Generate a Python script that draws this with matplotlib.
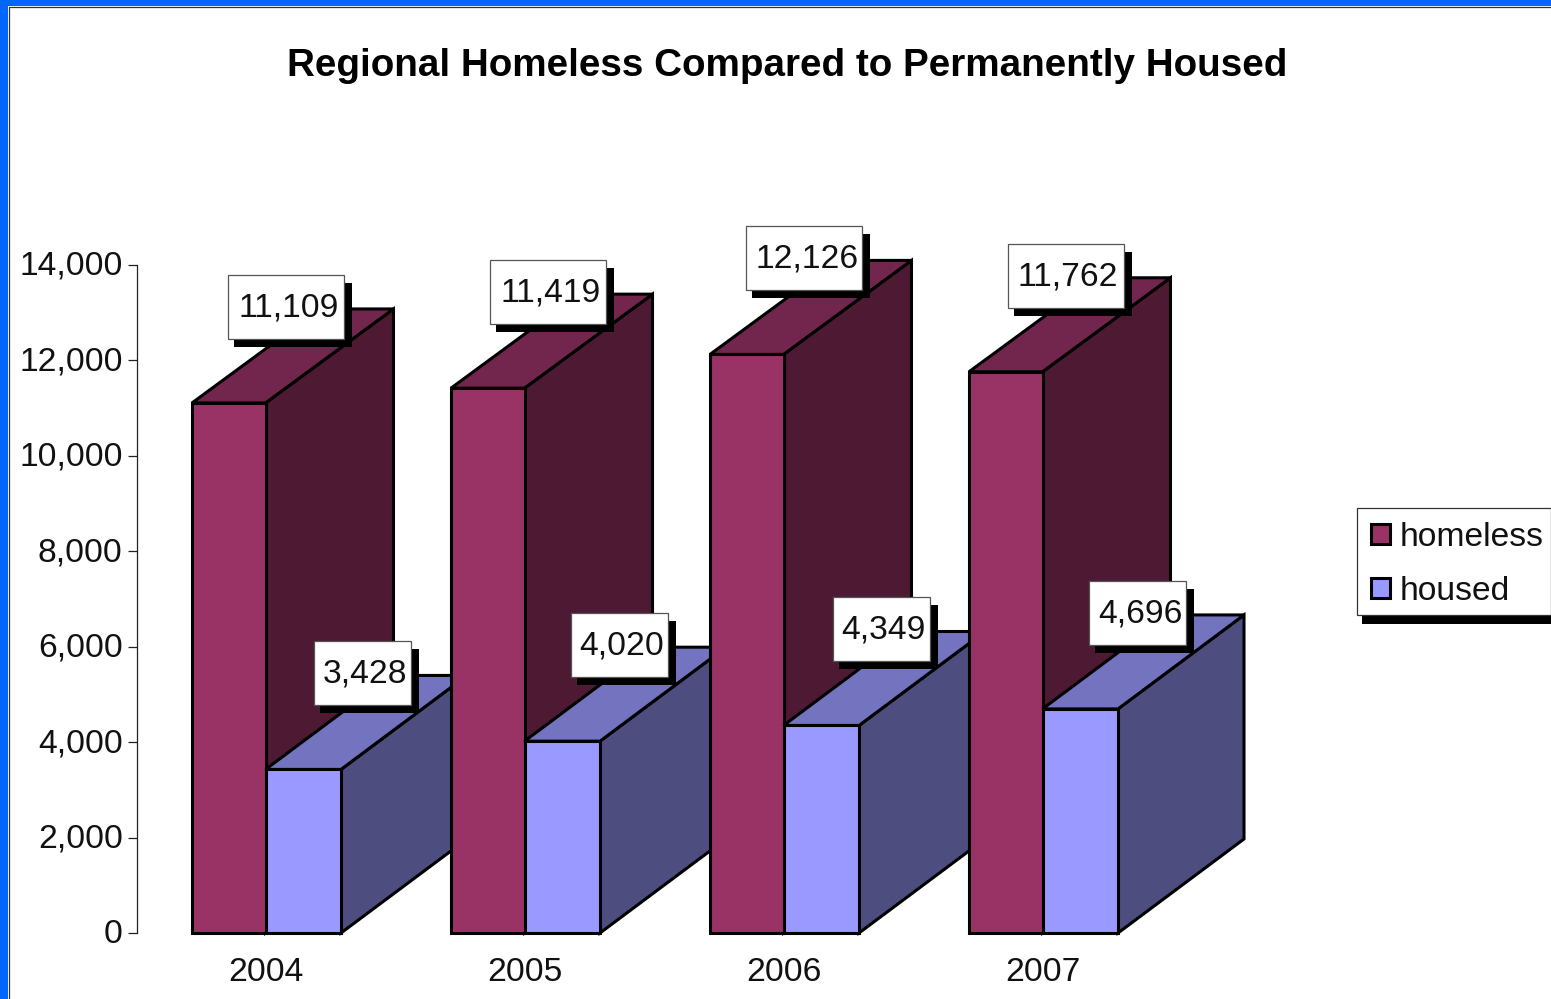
import matplotlib
matplotlib.use("Agg")
import matplotlib.pyplot as plt
from matplotlib.lines import Line2D
from matplotlib.patches import Polygon, Rectangle
from matplotlib.transforms import ScaledTranslation

plt.rcParams['font.family'] = ['Liberation Sans', 'DejaVu Sans']

years = ['2004', '2005', '2006', '2007']
homeless = [11109, 11419, 12126, 11762]
housed = [3428, 4020, 4349, 4696]
yticks = [0, 2000, 4000, 6000, 8000, 10000, 12000, 14000]
title = 'Regional Homeless Compared to Permanently Housed'

W, H = 1551, 999
PXX = 1 / 259.0
PXY = 14000 / 668.0
EDGE = 'black'
LW = 2.2
TICKFS = 24.2

fig = plt.figure(figsize=(W / 100, H / 100), dpi=100, facecolor='#0066FF')
fig.patches.append(Rectangle((8 / W, 0), 1 - 8 / W, 1 - 6 / H, transform=fig.transFigure,
                             facecolor='white', edgecolor='none', zorder=-5))
fig.add_artist(Line2D([8.5 / W, 8.5 / W, 1], [0, 1 - 6.5 / H, 1 - 6.5 / H], color='#333333', lw=0.9,
                      transform=fig.transFigure, zorder=-4))

ax = fig.add_axes([137 / W, (H - 933) / H, (1300 - 137) / W, 668 / H])
ax.patch.set_alpha(0)
ax.set_xlim(-128 * PXX, -128 * PXX + (1300 - 137) * PXX)
ax.set_ylim(0, 14000)
for s in ['top', 'right', 'bottom']:
    ax.spines[s].set_visible(False)
ax.spines['left'].set_linewidth(0.9)
ax.spines['left'].set_color('#222222')
ax.set_yticks(yticks)
ax.set_yticklabels([f'{v:,}' for v in yticks], fontsize=TICKFS, color='#111111')
ax.tick_params(axis='y', length=6.5, width=0.9, pad=3.8, color='#222222')
up = ScaledTranslation(0, 1.5 / 72, fig.dpi_scale_trans)
for t in ax.get_yticklabels():
    t.set_transform(t.get_transform() + up)
ax.set_xticks(range(len(years)))
ax.set_xticklabels(years, fontsize=TICKFS, color='#111111')
ax.tick_params(axis='x', length=0, pad=17.5)
right = ScaledTranslation(0.7 / 72, 0, fig.dpi_scale_trans)
for t in ax.get_xticklabels():
    t.set_transform(t.get_transform() + right)


def bar3d(x0, w, v, front, top, side, z, depth):
    dx, dy = depth * PXX, 94 * PXY
    x1 = x0 + w
    ax.add_patch(Polygon([(x1, 0), (x1 + dx, dy), (x1 + dx, v + dy), (x1, v)], closed=True,
                         facecolor=side, edgecolor=EDGE, lw=LW, zorder=z, clip_on=False))
    ax.add_patch(Polygon([(x0, v), (x0 + dx, v + dy), (x1 + dx, v + dy), (x1, v)], closed=True,
                         facecolor=top, edgecolor=EDGE, lw=LW, zorder=z, clip_on=False))
    return ax.bar(x0, v, w, align='edge', color=front, edgecolor=EDGE, lw=LW, zorder=z + 0.5,
                  clip_on=False)


def label(xc, v, text, wpx, shift):
    cx = xc + shift * PXX
    cy = v + 96 * PXY
    w, h = wpx * PXX, 64 * PXY
    ax.add_patch(Rectangle((cx - w / 2 + 6 * PXX, cy - h / 2 - 8 * PXY), w + 2 * PXX, h,
                           facecolor='black', edgecolor='none', zorder=100, clip_on=False))
    ax.add_patch(Rectangle((cx - w / 2, cy - h / 2), w, h, facecolor='white',
                           edgecolor='#555555', lw=0.9, zorder=101, clip_on=False))
    ax.text(cx + 2.5 * PXX, cy - 1 * PXY, text, ha='center', va='center', fontsize=TICKFS,
            color='#111111', zorder=102)


WH = 73.5 * PXX
WO = 75.5 * PXX
shift_h = [57, 60, 57.5, 60]
shift_o = [59.5, 57, 60, 57.5]
h_handle = o_handle = None
for i in range(len(years)):
    x0 = i - 73 * PXX
    h_handle = bar3d(x0, WH, homeless[i], '#993366', '#73264D', '#4D1933', 10 * i + 1, 128)
    o_handle = bar3d(x0 + WH, WO, housed[i], '#9999FF', '#7373BF', '#4D4D80', 10 * i + 5, 126)
    label(x0 + WH / 2, homeless[i], f'{homeless[i]:,}', 116, shift_h[i])
    label(x0 + WH + WO / 2, housed[i], f'{housed[i]:,}', 97, shift_o[i])

fig.text(787.5 / W, 1 - 66 / H, title, ha='center', va='center', fontsize=27.85,
         fontweight='bold', color='black')

fig.patches.append(Rectangle((1362 / W, 1 - 624 / H), (W - 1362) / W, 12 / H,
                             transform=fig.transFigure, facecolor='black', edgecolor='none', zorder=1))
fig.patches.append(Rectangle((1357 / W, 1 - 615 / H), (W - 1357) / W, 107 / H,
                             transform=fig.transFigure, facecolor='white', edgecolor='#333333',
                             lw=0.9, zorder=2))
leg = fig.legend([h_handle, o_handle], ['homeless', 'housed'], loc='upper left',
                 bbox_to_anchor=(1357 / W, 1 - 508 / H), bbox_transform=fig.transFigure,
                 fontsize=TICKFS, frameon=False,
                 handlelength=0.55, handleheight=0.55, handletextpad=0.31,
                 labelspacing=0.68, borderpad=0.42, borderaxespad=0)
leg.set_zorder(200)
for t in leg.get_texts():
    t.set_color('#111111')

fig.savefig('out.png', dpi=100, facecolor=fig.get_facecolor())
